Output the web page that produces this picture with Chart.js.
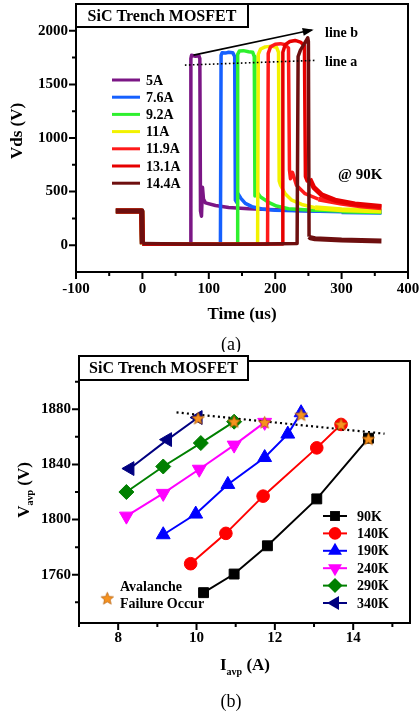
<!DOCTYPE html>
<html lang="en">
<head>
<meta charset="UTF-8">
<title>SiC Trench MOSFET avalanche</title>
<script src="https://cdn.jsdelivr.net/npm/chart.js"></script>
<style>
  body { margin: 0; background: #fff; }
  .panel { position: absolute; left: 0; width: 419px; }
  #panelA { top: 0; height: 352px; }
  #panelB { top: 352px; height: 364px; }
</style>
</head>
<body>
<div class="panel" id="panelA"><canvas id="chartA"></canvas></div>
<div class="panel" id="panelB"><canvas id="chartB"></canvas></div>
<script>
// ---------- (a) Vds waveforms at 90K, [time us, Vds V] ----------
const wave5A = [[-40,322],[-1,320],[0,12],[40,10],[72,12],[73,1740],[74,1772],[80,1762],[85,1768],[86.5,1740],[87.5,320],[89,270],[90.5,540],[92,430],[95,395],[110,370],[130,352],[160,340],[200,330],[250,322],[300,318],[360,315]];
const wave7p6A = [[-40,320],[-1,322],[0,10],[60,12],[117.5,14],[118.5,1770],[120,1795],[125,1792],[130,1800],[136,1796],[139,1760],[140,420],[142,400],[144,480],[148,440],[155,390],[165,360],[180,338],[200,325],[250,318],[300,312],[360,308]];
const wave9p2A = [[-40,320],[-1,320],[0,8],[60,10],[142.5,12],[143.5,1780],[146,1812],[152,1815],[160,1805],[166,1800],[168.5,1760],[169.5,460],[172,500],[178,450],[190,400],[202,365],[220,340],[250,328],[300,318],[360,312]];
const wave11A = [[-40,320],[-1,320],[0,10],[60,10],[173.5,12],[174.5,1780],[178,1830],[185,1850],[195,1855],[202,1845],[205,1800],[206,600],[208,560],[215,480],[225,420],[240,380],[260,350],[300,330],[360,320]];
const wave11p9A = [[-40,320],[-1,320],[0,10],[60,10],[188.5,12],[189.5,1790],[193,1850],[200,1875],[208,1880],[215,1870],[220,1840],[221.5,700],[223,620],[226,680],[232,560],[245,480],[265,430],[300,390],[330,365],[360,350]];
const wave13p1A = [[-40,320],[-1,320],[0,10],[60,10],[210.5,12],[211.5,1800],[215,1870],[222,1900],[230,1910],[238,1895],[244,1860],[245.5,640],[248,600],[252,620],[258,540],[270,470],[290,420],[320,385],[360,360]];
const wave14p4A = [[-40,320],[-1,320],[0,15],[60,12],[120,10],[180,12],[233,15],[234.5,1760],[238,1820],[244,1880],[249,1935],[250,1900],[251,80],[253,70],[260,60],[300,48],[360,40]];
const waveLabels = ['5A', '7.6A', '9.2A', '11A', '11.9A', '13.1A', '14.4A'];
const waveColors = ['#7b1685', '#1560ff', '#2ef02e', '#f2f200', '#ff1a1a', '#e60000', '#6e0f0f'];
const lineA = [[64,1680],[260,1724]];
const lineB = [[77,1773],[255,2007]];
const labelsAx = [-100, 0, 100, 200, 300, 400];
const labelsAy = [0, 500, 1000, 1500, 2000];
const ticksAx = [-100,-50,0,50,100,150,200,250,300,350,400];
const ticksAy = [0,250,500,750,1000,1250,1500,1750,2000];

// ---------- (b) Vavp vs Iavp ----------
const tempLabels = ['90K', '140K', '190K', '240K', '290K', '340K'];
const i90 = [10.18, 10.96, 11.81, 13.07, 14.39];
const v90 = [1747, 1760.5, 1781, 1815, 1859];
const i140 = [9.85, 10.75, 11.70, 13.07, 13.69];
const v140 = [1768, 1790, 1817, 1852, 1869];
const i190 = [9.15, 9.98, 10.80, 11.74, 12.33, 12.67];
const v190 = [1789, 1804, 1825.5, 1845, 1862, 1877.5];
const i240 = [8.21, 9.15, 10.07, 10.96, 11.74];
const v240 = [1802.5, 1819, 1836.5, 1854, 1870.5];
const i290 = [8.21, 9.15, 10.11, 10.96];
const v290 = [1820, 1838.5, 1855.5, 1871];
const i340 = [8.30, 9.26, 10.04];
const v340 = [1837, 1858, 1874];
const failI = [14.39, 13.69, 12.67, 11.74, 10.96, 10.04];
const failV = [1858.5, 1869, 1876, 1870.5, 1871, 1873.5];
const trendLine = [[9.49,1877.7],[14.8,1862.3]];
const labelsBx = [8, 10, 12, 14];
const labelsBy = [1760, 1800, 1840, 1880];
const ticksBx = [7,8,9,10,11,12,13,14,15];
const ticksBy = [1740,1760,1780,1800,1820,1840,1860,1880,1900];

const FONT = "'Liberation Serif', 'Times New Roman', serif";
Chart.defaults.font.family = FONT;
Chart.defaults.font.size = 15;
Chart.defaults.font.weight = 'bold';
Chart.defaults.color = '#000';

const pairs = w => w.map(([x, y]) => ({x, y}));
const zip = (xs, ys) => xs.map((x, i) => ({x, y: ys[i]}));

function text(ctx, s, x, y, size, align, weight) {
    ctx.font = (weight || 'bold') + ' ' + size + 'px ' + FONT;
    ctx.textAlign = align || 'left';
    ctx.textBaseline = 'middle';
    ctx.fillStyle = '#000';
    ctx.fillText(s, x, y);
}

// fixed axis box so the plot frame lands where it should
function axis(min, max, labels, size, isY) {
    return {
        type: 'linear', min, max,
        grid: {display: false, drawTicks: false}, border: {display: false},
        ticks: {autoSkip: false, maxRotation: 0, padding: isY ? 8 : (max > 100 ? 8 : 6),
                callback: v => String(v), font: {size: 15, weight: 'bold'}},
        afterBuildTicks: s => { s.ticks = labels.map(v => ({value: v})); },
        afterFit: s => {
            if (isY) s.width = size; else s.height = size;
            s.paddingTop = 0; s.paddingBottom = 0; s.paddingLeft = 0; s.paddingRight = 0;
        }
    };
}

function frameAndTicks(chart, xVals, xMajor, yVals, yMajor) {
    const {ctx, chartArea: a, scales} = chart;
    ctx.save();
    ctx.strokeStyle = '#000';
    ctx.lineWidth = 2;
    ctx.strokeRect(a.left, a.top, a.right - a.left, a.bottom - a.top);
    ctx.beginPath();
    xVals.forEach(v => {
        const p = scales.x.getPixelForValue(v);
        ctx.moveTo(p, a.bottom);
        ctx.lineTo(p, a.bottom + (xMajor(v) ? 7 : 4));
    });
    yVals.forEach(v => {
        const p = scales.y.getPixelForValue(v);
        ctx.moveTo(a.left, p);
        ctx.lineTo(a.left - (yMajor(v) ? 7 : 4), p);
    });
    ctx.stroke();
    ctx.restore();
}

function titleBox(ctx, x0, y0, x1, y1) {
    ctx.save();
    ctx.fillStyle = '#fff';
    ctx.fillRect(x0, y0, x1 - x0, y1 - y0);
    ctx.lineWidth = 2;
    ctx.strokeStyle = '#000';
    ctx.strokeRect(x0, y0, x1 - x0, y1 - y0);
    text(ctx, 'SiC Trench MOSFET', (x0 + x1) / 2, (y0 + y1) / 2 + 1, 16, 'center');
    ctx.restore();
}

function starPath(g, cx, cy, ro, ri) {
    g.beginPath();
    for (let k = 0; k < 10; k++) {
        const r = k % 2 ? ri : ro;
        const ang = -Math.PI / 2 + k * Math.PI / 5;
        const px = cx + r * Math.cos(ang), py = cy + r * Math.sin(ang);
        k ? g.lineTo(px, py) : g.moveTo(px, py);
    }
    g.closePath();
}

function makeStar(r) {
    const c = document.createElement('canvas');
    const s = Math.ceil(r * 2 + 2);
    c.width = c.height = s;
    const g = c.getContext('2d');
    starPath(g, s / 2, s / 2 + 0.5, r, r * 0.45);
    g.fillStyle = '#f7921e';
    g.fill();
    g.lineWidth = 0.7;
    g.strokeStyle = '#b05800';
    g.stroke();
    return c;
}
const starImg = makeStar(6.5);

function drawMarker(ctx, style, x, y, r, rot, color) {
    ctx.save();
    ctx.fillStyle = color;
    ctx.translate(x, y);
    ctx.rotate(rot * Math.PI / 180);
    ctx.beginPath();
    if (style === 'rect') {
        const s = r * Math.SQRT1_2;
        ctx.rect(-s, -s, 2 * s, 2 * s);
    } else if (style === 'circle') {
        ctx.arc(0, 0, r, 0, Math.PI * 2);
    } else if (style === 'rectRot') {
        ctx.moveTo(-r, 0); ctx.lineTo(0, -r); ctx.lineTo(r, 0); ctx.lineTo(0, r);
    } else {
        for (let k = 0; k < 3; k++) {
            const ang = k * 2 * Math.PI / 3;
            ctx.lineTo(Math.sin(ang) * r, -Math.cos(ang) * r);
        }
    }
    ctx.closePath();
    ctx.fill();
    ctx.restore();
}

// ---------- chart (a) ----------
const waves = [wave5A, wave7p6A, wave9p2A, wave11A, wave11p9A, wave13p1A, wave14p4A];
const datasetsA = waves.map((w, i) => ({
    label: waveLabels[i],
    data: pairs(w),
    showLine: true,
    borderColor: waveColors[i],
    borderWidth: 3.5,
    borderJoinStyle: 'round',
    pointRadius: 0,
    // scope traces are noisy: the pre-trigger and tail bands read thicker
    segment: {borderWidth: c => (c.p0.parsed.x < 0 || c.p0.parsed.x > 250 ? 5 : 3.5)},
    order: waves.length - i
}));
datasetsA.push({label: 'line a', data: pairs(lineA), showLine: true, borderColor: '#000', borderWidth: 1.6, borderDash: [1.6, 2.4], pointRadius: 0, order: 0});
datasetsA.push({label: 'line b', data: pairs(lineB), showLine: true, borderColor: '#000', borderWidth: 1.6, pointRadius: 0, order: 0});

const decorA = {
    id: 'decorA',
    afterDraw(chart) {
        const {ctx, scales} = chart;
        frameAndTicks(chart, ticksAx, v => v % 100 === 0, ticksAy, v => v % 500 === 0);
        titleBox(ctx, 76, 4, 248, 27);
        // arrow head of line b
        const x0 = scales.x.getPixelForValue(lineB[0][0]), y0 = scales.y.getPixelForValue(lineB[0][1]);
        const x1 = scales.x.getPixelForValue(lineB[1][0]), y1 = scales.y.getPixelForValue(lineB[1][1]);
        const ang = Math.atan2(y1 - y0, x1 - x0);
        ctx.save();
        ctx.translate(x1, y1);
        ctx.rotate(ang);
        ctx.beginPath();
        ctx.moveTo(2, 0); ctx.lineTo(-9, -4); ctx.lineTo(-9, 4); ctx.closePath();
        ctx.fillStyle = '#000';
        ctx.fill();
        ctx.restore();
        text(ctx, 'line b', 325, 33, 14);
        text(ctx, 'line a', 325, 62, 14);
        text(ctx, '@ 90K', 338, 175, 15);
        // legend
        waveLabels.forEach((lab, i) => {
            const y = 80 + 17.2 * i;
            ctx.save();
            ctx.strokeStyle = waveColors[i];
            ctx.lineWidth = 3;
            ctx.beginPath(); ctx.moveTo(112, y); ctx.lineTo(140, y); ctx.stroke();
            ctx.restore();
            text(ctx, lab, 146, y + 1, 14);
        });
        // axis titles
        ctx.save();
        ctx.translate(18, 131);
        ctx.rotate(-Math.PI / 2);
        text(ctx, 'Vds (V)', 0, 0, 17, 'center');
        ctx.restore();
        text(ctx, 'Time (us)', 242, 315, 17, 'center');
        text(ctx, '(a)', 231, 345, 18, 'center', 'normal');
    }
};

new Chart(document.getElementById('chartA'), {
    type: 'scatter',
    data: {datasets: datasetsA},
    options: {
        animation: false,
        responsive: true,
        maintainAspectRatio: false,
        layout: {padding: {left: 0, right: 11, top: 4, bottom: 0}},
        plugins: {legend: {display: false}, tooltip: {enabled: false}},
        scales: {
            x: axis(-100, 400, labelsAx, 80, false),
            y: axis(-250, 2250, labelsAy, 76, true)
        }
    },
    plugins: [decorA]
});

// ---------- chart (b) ----------
const tempColors = ['#000000', '#ff0000', '#0000ff', '#ff00ff', '#008000', '#000080'];
const tempStyles = ['rect', 'circle', 'triangle', 'triangle', 'rectRot', 'triangle'];
const tempRot = [0, 0, 0, 180, 0, -90];
const tempRadius = [7, 6.3, 8, 8, 7.5, 8];
const tempI = [i90, i140, i190, i240, i290, i340];
const tempV = [v90, v140, v190, v240, v290, v340];

const datasetsB = [{
    label: 'Avalanche Failure Occur', data: zip(failI, failV),
    pointStyle: starImg, pointRadius: 7, showLine: false, order: 0
}, {
    label: 'trend', data: pairs(trendLine), showLine: true, borderColor: '#000',
    borderWidth: 2.2, borderDash: [2, 3.2], pointRadius: 0, order: 1
}];
tempLabels.forEach((lab, i) => {
    datasetsB.push({
        label: lab, data: zip(tempI[i], tempV[i]), showLine: true,
        borderColor: tempColors[i], backgroundColor: tempColors[i], borderWidth: 2,
        pointStyle: tempStyles[i], pointRotation: tempRot[i], pointRadius: tempRadius[i],
        pointBorderWidth: 1, pointBorderColor: tempColors[i], order: 2 + i
    });
});

const decorB = {
    id: 'decorB',
    afterDraw(chart) {
        const {ctx} = chart;
        frameAndTicks(chart, ticksBx, v => v % 2 === 0, ticksBy, v => v % 40 === 0);
        titleBox(ctx, 79, 4, 248, 28);
        // legend
        tempLabels.forEach((lab, i) => {
            const y = 164 + 17.4 * i;
            ctx.save();
            ctx.strokeStyle = tempColors[i];
            ctx.lineWidth = 2;
            ctx.beginPath(); ctx.moveTo(323, y); ctx.lineTo(347, y); ctx.stroke();
            ctx.restore();
            drawMarker(ctx, tempStyles[i], 335, y, tempRadius[i], tempRot[i], tempColors[i]);
            text(ctx, lab, 357, y + 1, 14);
        });
        ctx.drawImage(starImg, 107.3 - starImg.width / 2, 246.3 - starImg.height / 2);
        text(ctx, 'Avalanche', 120, 235, 14);
        text(ctx, 'Failure Occur', 120, 252, 14);
        // y title V_avp (V)
        ctx.save();
        ctx.translate(25, 138);
        ctx.rotate(-Math.PI / 2);
        ctx.font = 'bold 17px ' + FONT;
        const wV = ctx.measureText('V').width, wT = ctx.measureText(' (V)').width;
        ctx.font = 'bold 10px ' + FONT;
        const wS = ctx.measureText('avp').width;
        let sx = -(wV + wS + wT) / 2;
        text(ctx, 'V', sx, 0, 17); sx += wV;
        text(ctx, 'avp', sx, 5, 10); sx += wS;
        text(ctx, ' (V)', sx, 0, 17);
        ctx.restore();
        // x title I_avp (A)
        ctx.font = 'bold 17px ' + FONT;
        const wI = ctx.measureText('I').width, wA = ctx.measureText(' (A)').width;
        ctx.font = 'bold 10px ' + FONT;
        const wS2 = ctx.measureText('avp').width;
        let px = 245 - (wI + wS2 + wA) / 2;
        text(ctx, 'I', px, 314, 17); px += wI;
        text(ctx, 'avp', px, 320, 10); px += wS2;
        text(ctx, ' (A)', px, 314, 17);
        text(ctx, '(b)', 231, 350, 18, 'center', 'normal');
    }
};

new Chart(document.getElementById('chartB'), {
    type: 'scatter',
    data: {datasets: datasetsB},
    options: {
        animation: false,
        responsive: true,
        maintainAspectRatio: false,
        layout: {padding: {left: 0, right: 9, top: 4, bottom: 0}},
        plugins: {legend: {display: false}, tooltip: {enabled: false}},
        scales: {
            x: axis(7, 15.45, labelsBx, 93, false),
            y: axis(1725, 1915, labelsBy, 79, true)
        }
    },
    plugins: [decorB]
});
</script>
</body>
</html>
